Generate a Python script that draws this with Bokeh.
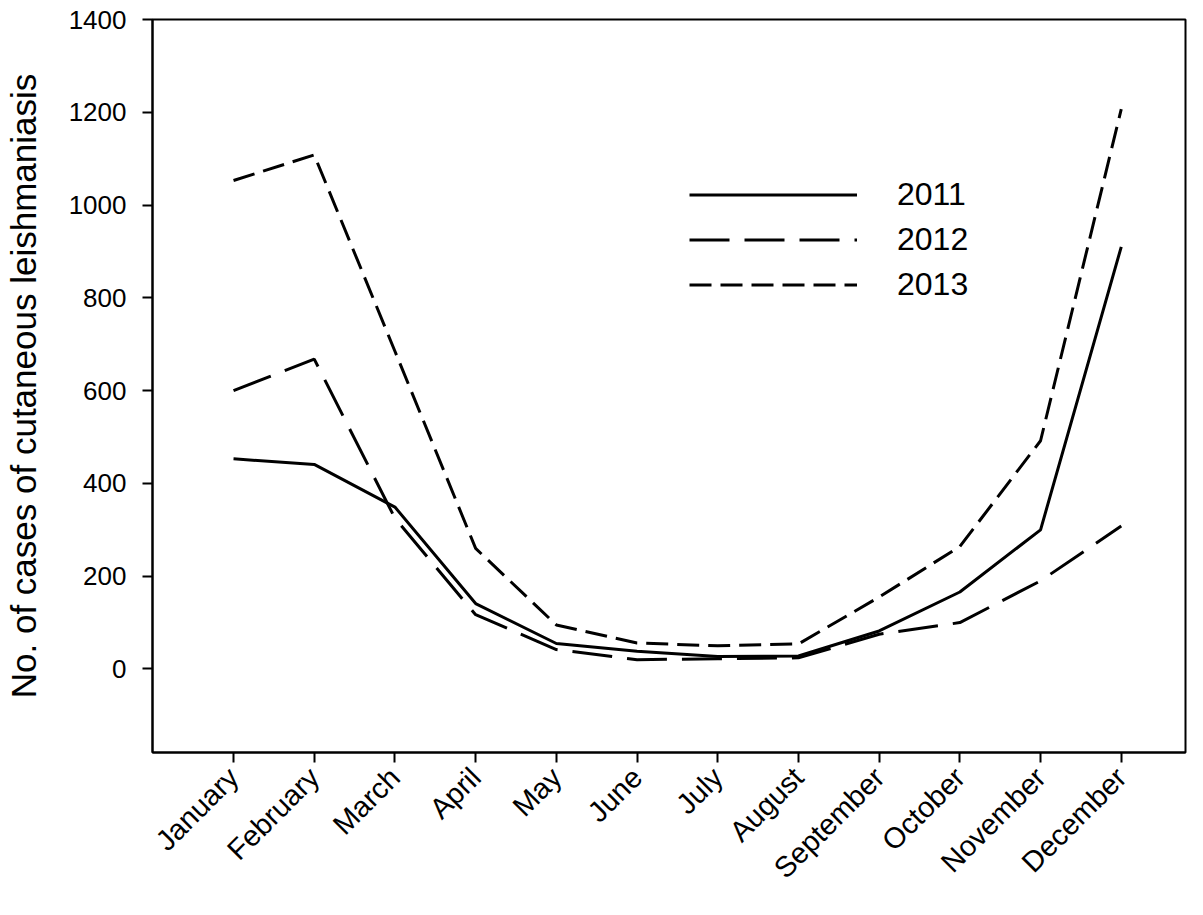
from bokeh.plotting import figure
from bokeh.models import Range1d, FixedTicker, Legend, LegendItem
from bokeh.embed import file_html
from bokeh.resources import INLINE

months = ["January", "February", "March", "April", "May", "June",
          "July", "August", "September", "October", "November", "December"]
cases_2011 = [453, 441, 349, 141, 55, 38, 27, 28, 82, 166, 300, 910]
cases_2012 = [600, 668, 325, 117, 42, 20, 22, 24, 75, 100, 190, 308]
cases_2013 = [1053, 1108, 685, 260, 95, 56, 50, 54, 155, 264, 492, 1207]
y_ticks = [0, 200, 400, 600, 800, 1000, 1200, 1400]

x = list(range(1, len(months) + 1))
FONT = "Liberation Sans"

p = figure(width=1187, height=899, output_backend="svg", toolbar_location=None,
           x_range=Range1d(-0.004, 12.796), y_range=Range1d(-180, 1400),
           min_border_left=152, min_border_right=2, min_border_top=19,
           min_border_bottom=147)
p.grid.visible = False
p.background_fill_color = "white"
p.border_fill_color = "white"
p.outline_line_color = "black"
p.outline_line_width = 2

r1 = p.line(x, cases_2011, line_color="black", line_width=3)
r2 = p.line(x, cases_2012, line_color="black", line_width=3, line_dash="40 15")
r3 = p.line(x, cases_2013, line_color="black", line_width=3, line_dash="22 9")

legend = Legend(items=[LegendItem(label="2011", renderers=[r1]),
                       LegendItem(label="2012", renderers=[r2]),
                       LegendItem(label="2013", renderers=[r3])],
                location=(537, 445), glyph_width=168, glyph_height=45,
                label_height=45, label_standoff=40, spacing=0, padding=0,
                margin=0, border_line_color=None, background_fill_alpha=0,
                label_text_font=FONT, label_text_font_size="32px",
                label_text_color="black")
p.add_layout(legend, "center")

xa = p.xaxis[0]
xa.ticker = FixedTicker(ticks=x)
xa.major_label_overrides = {i: m for i, m in zip(x, months)}
xa.major_label_orientation = 0.785398
xa.major_label_text_font = FONT
xa.major_label_text_font_size = "29px"
xa.major_label_text_color = "black"
xa.major_tick_out = 10
xa.major_tick_in = 0
xa.minor_tick_out = 0
xa.minor_tick_in = 0
xa.major_label_standoff = 10
xa.axis_line_width = 2
xa.major_tick_line_width = 2

ya = p.yaxis[0]
ya.ticker = FixedTicker(ticks=y_ticks)
ya.major_label_text_font = FONT
ya.major_label_text_font_size = "26px"
ya.major_label_text_color = "black"
ya.major_tick_out = 10
ya.major_tick_in = 0
ya.minor_tick_out = 0
ya.minor_tick_in = 0
ya.major_label_standoff = 16
ya.axis_line_width = 2
ya.major_tick_line_width = 2
ya.axis_label = "No. of cases of cutaneous leishmaniasis"
ya.axis_label_text_font = FONT
ya.axis_label_text_font_size = "35px"
ya.axis_label_text_font_style = "normal"
ya.axis_label_text_color = "black"
ya.axis_label_standoff = 23

open("out.html", "w").write(file_html(p, INLINE))
